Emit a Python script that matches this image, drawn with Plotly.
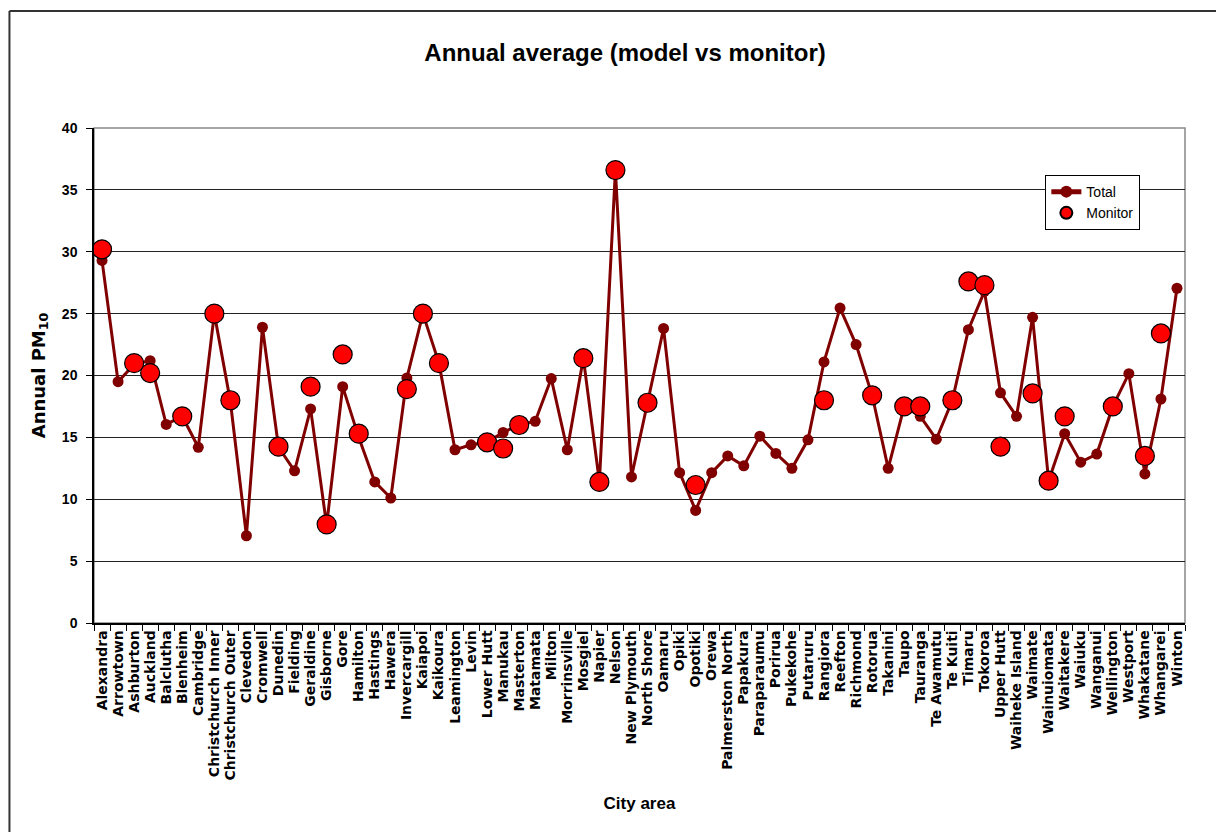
import plotly.graph_objects as go

cities = [
    "Alexandra", "Arrowtown", "Ashburton", "Auckland", "Balclutha", "Blenheim",
    "Cambridge", "Christchurch Inner", "Christchurch Outer", "Clevedon", "Cromwell",
    "Dunedin", "Fielding", "Geraldine", "Gisborne", "Gore", "Hamilton", "Hastings",
    "Hawera", "Invercargill", "Kaiapoi", "Kaikoura", "Leamington", "Levin",
    "Lower Hutt", "Manukau", "Masterton", "Matamata", "Milton", "Morrinsville",
    "Mosgiel", "Napier", "Nelson", "New Plymouth", "North Shore", "Oamaru", "Opiki",
    "Opotiki", "Orewa", "Palmerston North", "Papakura", "Paraparaumu", "Porirua",
    "Pukekohe", "Putaruru", "Rangiora", "Reefton", "Richmond", "Rotorua", "Takanini",
    "Taupo", "Tauranga", "Te Awamutu", "Te Kuiti", "Timaru", "Tokoroa", "Upper Hutt",
    "Waiheke Island", "Waimate", "Wainuiomata", "Waitakere", "Waiuku", "Wanganui",
    "Wellington", "Westport", "Whakatane", "Whangarei", "Winton",
]

total = [
    29.3, 19.5, 20.9, 21.2, 16.05, 16.7, 14.2, 25.0, 17.9, 7.05, 23.9, 14.2, 12.3,
    17.3, 7.9, 19.1, 15.0, 11.4, 10.1, 19.8, 25.0, 21.0, 14.0, 14.4, 14.6, 15.4,
    16.0, 16.3, 19.75, 14.0, 21.4, 11.4, 36.6, 11.8, 17.8, 23.8, 12.15, 9.1, 12.15,
    13.5, 12.7, 15.1, 13.7, 12.5, 14.8, 21.1, 25.45, 22.5, 18.4, 12.5, 17.5, 16.7,
    14.85, 18.0, 23.7, 26.8, 18.6, 16.7, 24.7, 11.5, 15.3, 13.0, 13.65, 17.5, 20.15,
    12.05, 18.1, 27.05,
]

monitor = [
    30.2, None, 21.0, 20.2, None, 16.7, None, 25.0, 18.0, None, None, 14.25, None,
    19.1, 7.97, 21.7, 15.3, None, None, 18.9, 25.0, 21.0, None, None, 14.6, 14.1,
    16.0, None, None, None, 21.4, 11.4, 36.6, None, 17.8, None, None, 11.15, None,
    None, None, None, None, None, None, 18.0, None, None, 18.4, None, 17.5, 17.5,
    None, 18.0, 27.6, 27.3, 14.25, None, 18.55, 11.5, 16.7, None, None, 17.5, None,
    13.5, 23.4, None,
]

y_ticks = [0, 5, 10, 15, 20, 25, 30, 35, 40]

ARIAL_BOLD = dict(family="Liberation Sans, Arial, sans-serif", color="black", weight="bold")
WIDE_BOLD = dict(family="DejaVu Sans, Verdana, sans-serif", color="black", weight="bold")

fig = go.Figure()

fig.add_trace(go.Scatter(
    x=cities, y=total, name="Total", mode="lines+markers",
    line=dict(color="#800000", width=3),
    marker=dict(color="#800000", size=11),
))

fig.add_trace(go.Scatter(
    x=cities, y=monitor, name="Monitor", mode="markers",
    marker=dict(color="#FF0000", size=19, line=dict(color="black", width=1.2)),
))

# outer frame around the chart (top and left edges)
fig.add_shape(type="line", xref="paper", yref="paper",
              x0=-0.0775, x1=1.05, y0=1.2365, y1=1.2365,
              line=dict(color="#333", width=2))
fig.add_shape(type="line", xref="paper", yref="paper",
              x0=-0.0775, x1=-0.0775, y0=1.2365, y1=-0.5,
              line=dict(color="#333", width=2))

# plot-area frame on the top and right
fig.add_shape(type="rect", xref="paper", yref="paper", x0=0, x1=1, y0=0, y1=1,
              line=dict(color="#888", width=1.5), layer="below")

fig.update_layout(
    width=1216, height=832,
    margin=dict(l=94, r=31, t=128, b=209),
    paper_bgcolor="white", plot_bgcolor="white",
    title=dict(text="Annual average (model vs monitor)", x=0.514, xanchor="center",
               y=1 - 53 / 832, yanchor="middle",
               font=dict(size=24, **ARIAL_BOLD)),
    showlegend=True,
    legend=dict(x=0.872, y=0.905, xanchor="left", yanchor="top",
                bgcolor="white", bordercolor="black", borderwidth=1,
                font=dict(family="Liberation Sans, Arial, sans-serif", size=14, color="black"),
                itemwidth=30, itemsizing="constant", tracegroupgap=4),
    xaxis=dict(
        type="category", tickangle=-90,
        range=[-0.5, len(cities) - 0.5],
        tickmode="array", tickvals=cities, ticktext=cities,
        tickfont=dict(size=14, **WIDE_BOLD),
        showline=True, linecolor="black", linewidth=1.5, mirror=False,
        ticks="outside", tickson="boundaries", ticklen=6, tickcolor="black",
        showgrid=False,
        title=dict(text="City area", font=dict(size=17, **ARIAL_BOLD), standoff=18),
    ),
    yaxis=dict(
        range=[0, 40], tickvals=y_ticks, ticktext=[str(v) for v in y_ticks],
        tickfont=dict(size=14, **ARIAL_BOLD),
        showline=True, linecolor="black", linewidth=1.5,
        ticks="outside", ticklen=6, tickcolor="black", ticklabelstandoff=6,
        showgrid=True, gridcolor="#222", gridwidth=1,
        zeroline=False,
        title=dict(text="Annual PM<sub>10</sub>", font=dict(size=18, **WIDE_BOLD), standoff=12),
    ),
)

fig.write_html("out.html")
